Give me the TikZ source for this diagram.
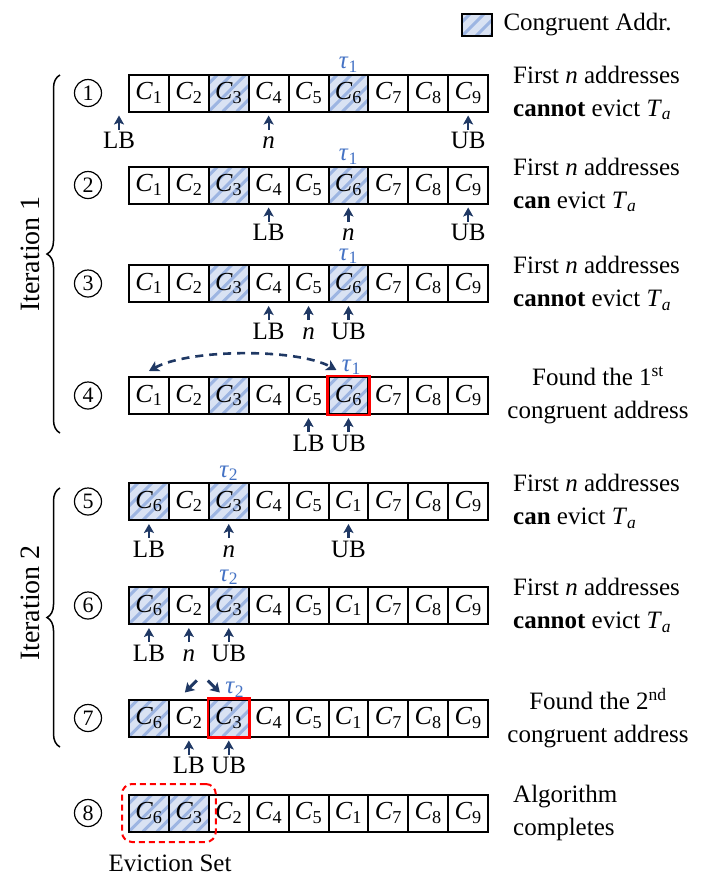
\documentclass[tikz,border=0pt]{standalone}
\usepackage{fontspec}
\setmainfont{Liberation Serif}
\usetikzlibrary{arrows.meta,decorations.pathreplacing,fit,calc}
\definecolor{navy}{HTML}{1F3864}
\definecolor{taublue}{HTML}{4472C4}
\definecolor{hbg}{HTML}{D9E2F3}
\definecolor{hstr}{HTML}{9DB5E2}
\newcommand{\Csub}[1]{\textit{C}\textsubscript{#1}}
\newcommand{\cellrow}[3]{%
  \foreach \lab/\h [count=\i] in {#3} {
    \node[cell, hatch=\h] (r#1c\i) at ({109.05+39.9*\i}, #2) {\Csub{\lab}};
  }%
}
\tikzset{
  cell/.style={draw, line width=2pt, minimum width=39.9pt, minimum height=37pt, inner sep=0pt, anchor=center, font=\fontsize{26}{26}\selectfont},
  hcell/.style={fill=hbg, path picture={\foreach \k in {-4,...,3}{\draw[hstr, line width=3pt] ([xshift=\k*14pt]path picture bounding box.south west) -- ++(60pt,60pt);}}},
  hatch/.code={\ifnum#1=1\relax\tikzset{hcell}\fi},
  circnum/.style={circle, draw, line width=1.2pt, minimum size=27pt, inner sep=0pt, font=\fontsize{22}{22}\selectfont},
  lbl/.style={anchor=north, yshift=-20pt, inner sep=0pt, text height=16pt, text depth=0pt, font=\fontsize{25}{25}\selectfont},
  ptr/.style={navy, line width=2.2pt, -{Stealth[length=9pt,width=10pt,inset=2pt]}, shorten >=3pt, shorten <=3pt},
  tau/.style={anchor=south, yshift=1pt, inner sep=0pt, text=taublue},
  desc/.style={anchor=west, align=left, inner sep=0pt},
  descc/.style={anchor=center, align=center, inner sep=0pt},
  redframe/.style={draw=red, line width=2.5pt},
  brc/.style={decorate, decoration={brace, amplitude=13pt}, line width=1.5pt},
  dash2/.style={navy, line width=2.6pt, dash pattern=on 8pt off 6pt, {Stealth[length=10pt,width=11pt,inset=2.5pt]}-{Stealth[length=10pt,width=11pt,inset=2.5pt]}},
  swap/.style={navy, line width=3pt, -{Stealth[length=9pt,width=11pt,inset=2pt]}},
}
\begin{document}
\begin{tikzpicture}[x=1pt,y=-1pt, font=\fontsize{25}{33}\selectfont]
\useasboundingbox (0,0) rectangle (714,892);

% legend
\node[draw, line width=2.5pt, minimum width=30pt, minimum height=22pt, inner sep=0pt, hcell] (leg) at (477,25) {};
\node[anchor=west] (legt) at (500,25) {Congruent Addr.};

% rows
\cellrow{1}{93}{1/0,2/0,3/1,4/0,5/0,6/1,7/0,8/0,9/0}
\cellrow{2}{185}{1/0,2/0,3/1,4/0,5/0,6/1,7/0,8/0,9/0}
\cellrow{3}{283.5}{1/0,2/0,3/1,4/0,5/0,6/1,7/0,8/0,9/0}
\cellrow{4}{395.5}{1/0,2/0,3/1,4/0,5/0,6/1,7/0,8/0,9/0}
\cellrow{5}{501.5}{6/1,2/0,3/1,4/0,5/0,1/0,7/0,8/0,9/0}
\cellrow{6}{605.5}{6/1,2/0,3/1,4/0,5/0,1/0,7/0,8/0,9/0}
\cellrow{7}{718}{6/1,2/0,3/1,4/0,5/0,1/0,7/0,8/0,9/0}
\cellrow{8}{813}{6/1,3/1,2/0,4/0,5/0,1/0,7/0,8/0,9/0}

% circled numbers
\node[circnum] (k1) at (88,93) {1};
\node[circnum] (k2) at (88,185) {2};
\node[circnum] (k3) at (88,283.5) {3};
\node[circnum] (k4) at (88,395.5) {4};
\node[circnum] (k5) at (88,501.5) {5};
\node[circnum] (k6) at (88,605.5) {6};
\node[circnum] (k7) at (88,718) {7};
\node[circnum] (k8) at (88,813) {8};

% taus
\node[tau] (t1) at (r1c6.north) {\textit{τ}\textsubscript{1}};
\node[tau] (t2) at (r2c6.north) {\textit{τ}\textsubscript{1}};
\node[tau, yshift=-1pt] (t3) at (r3c6.north) {\textit{τ}\textsubscript{1}};
\node[tau] (t4) at ([xshift=3pt]r4c6.north) {\textit{τ}\textsubscript{1}};
\node[tau] (t5) at (r5c3.north) {\textit{τ}\textsubscript{2}};
\node[tau] (t6) at (r6c3.north) {\textit{τ}\textsubscript{2}};
\node[tau] (t7) at ([xshift=6pt]r7c3.north) {\textit{τ}\textsubscript{2}};

% pointers row 1
\node[lbl] (r1lb) at ([xshift=-9pt]r1c1.south west) {LB};
\node[lbl] (r1n) at (r1c4.south) {\textit{n}};
\node[lbl] (r1ub) at (r1c9.south) {UB};
\draw[ptr] (r1lb) -- (r1lb |- r1c1.south);
\draw[ptr] (r1n) -- (r1c4.south);
\draw[ptr] (r1ub) -- (r1c9.south);
% row 2
\node[lbl] (r2lb) at (r2c4.south) {LB};
\node[lbl] (r2n) at (r2c6.south) {\textit{n}};
\node[lbl] (r2ub) at (r2c9.south) {UB};
\draw[ptr] (r2lb) -- (r2c4.south);
\draw[ptr] (r2n) -- (r2c6.south);
\draw[ptr] (r2ub) -- (r2c9.south);
% row 3
\node[lbl] (r3lb) at (r3c4.south) {LB};
\node[lbl] (r3n) at (r3c5.south) {\textit{n}};
\node[lbl] (r3ub) at (r3c6.south) {UB};
\draw[ptr] (r3lb) -- (r3c4.south);
\draw[ptr] (r3n) -- (r3c5.south);
\draw[ptr] (r3ub) -- (r3c6.south);
% row 4
\node[lbl] (r4lb) at (r4c5.south) {LB};
\node[lbl] (r4ub) at (r4c6.south) {UB};
\draw[ptr] (r4lb) -- (r4c5.south);
\draw[ptr] (r4ub) -- (r4c6.south);
\draw[redframe] (r4c6.south west) rectangle (r4c6.north east);
\coordinate (d1) at ([yshift=5pt]r4c1.north);
\coordinate (d2) at ([xshift=-12pt,yshift=6pt]r4c6.north);
\draw[dash2] (d1) .. controls +(40pt,22pt) and +(-40pt,22pt) .. (d2);
% row 5
\node[lbl] (r5lb) at (r5c1.south) {LB};
\node[lbl] (r5n) at (r5c3.south) {\textit{n}};
\node[lbl] (r5ub) at (r5c6.south) {UB};
\draw[ptr] (r5lb) -- (r5c1.south);
\draw[ptr] (r5n) -- (r5c3.south);
\draw[ptr] (r5ub) -- (r5c6.south);
% row 6
\node[lbl] (r6lb) at (r6c1.south) {LB};
\node[lbl] (r6n) at (r6c2.south) {\textit{n}};
\node[lbl] (r6ub) at (r6c3.south) {UB};
\draw[ptr] (r6lb) -- (r6c1.south);
\draw[ptr] (r6n) -- (r6c2.south);
\draw[ptr] (r6ub) -- (r6c3.south);
% row 7
\node[lbl] (r7lb) at (r7c2.south) {LB};
\node[lbl] (r7ub) at (r7c3.south) {UB};
\draw[ptr] (r7lb) -- (r7c2.south);
\draw[ptr] (r7ub) -- (r7c3.south);
\draw[redframe] (r7c3.south west) rectangle (r7c3.north east);
\coordinate (s1a) at ([xshift=8pt,yshift=18pt]r7c2.north);
\coordinate (s1b) at ([xshift=-4pt,yshift=6pt]r7c2.north);
\coordinate (s2a) at ([xshift=19pt,yshift=18pt]r7c2.north);
\coordinate (s2b) at ([xshift=31pt,yshift=6pt]r7c2.north);
\draw[swap] (s1a) -- (s1b);
\draw[swap] (s2a) -- (s2b);
% row 8
\node[draw=red, dash pattern=on 6pt off 4pt, line width=2pt, rounded corners=10pt, fit=(r8c1)(r8c2), inner xsep=6pt, inner ysep=9.5pt] (evbox) {};
\node (ev) at (170,863) {Eviction Set};

% descriptions
\node[desc] (x1) at (513,93) {First \textit{n} addresses\\\textbf{cannot} evict \textit{T}\textsubscript{\textit{a}}};
\node[desc] (x2) at (513,185) {First \textit{n} addresses\\\textbf{can} evict \textit{T}\textsubscript{\textit{a}}};
\node[desc] (x3) at (513,283.5) {First \textit{n} addresses\\\textbf{cannot} evict \textit{T}\textsubscript{\textit{a}}};
\node[descc] (x4) at (598,395.5) {Found the 1\textsuperscript{st}\\congruent address};
\node[desc] (x5) at (513,501.5) {First \textit{n} addresses\\\textbf{can} evict \textit{T}\textsubscript{\textit{a}}};
\node[desc] (x6) at (513,605.5) {First \textit{n} addresses\\\textbf{cannot} evict \textit{T}\textsubscript{\textit{a}}};
\node[descc] (x7) at (598,718) {Found the 2\textsuperscript{nd}\\congruent address};
\node[desc] (x8) at (513,813) {Algorithm\\completes};

% braces
\draw[brc] (60,433) -- (60,75);
\draw[brc] (60,747) -- (60,488);
\node[rotate=90, font=\fontsize{28}{28}\selectfont] (it1) at (30,254) {Iteration 1};
\node[rotate=90, font=\fontsize{28}{28}\selectfont] (it2) at (30,603) {Iteration 2};
\end{tikzpicture}
\end{document}
